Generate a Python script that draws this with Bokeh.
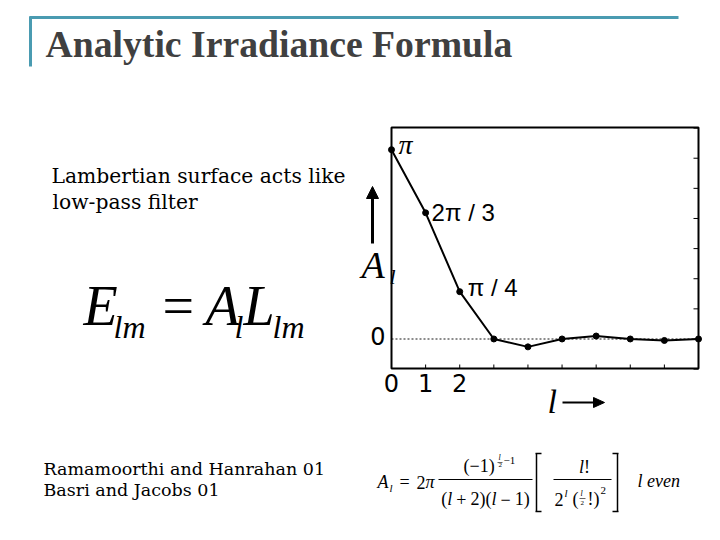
from bokeh.plotting import figure
from bokeh.models import Range1d
from bokeh.core.properties import value
from bokeh.embed import file_html
from bokeh.resources import INLINE

# ---------------- data ----------------
l_values = [0, 1, 2, 3, 4, 5, 6, 7, 8, 9]
A_values = [3.1416, 2.0944, 0.7854, 0.0, -0.1309, 0.0, 0.0491, 0.0, -0.0245, 0.0]
x_tick_values = [0, 1, 2]
x_tick_labels = ["0", "1", "2"]
y_tick_values = [0]
y_tick_labels = ["0"]
right_tick_values = [-0.5, 0.0, 0.5, 1.0, 1.5, 2.0, 2.5, 3.0, 3.5]
point_labels = ["π", "2π / 3", "π / 4"]

title_text = "Analytic Irradiance Formula"
note_lines = ["Lambertian surface acts like", "low-pass filter"]
cite_lines = ["Ramamoorthi and Hanrahan 01", "Basri and Jacobs 01"]

# ---------------- geometry ----------------
W, H = 704, 524
FL, FR, FT, FB = 391, 698, 127, 368      # chart frame on the canvas (pixels)
XR = (0.0, 9.0)
YR = (-0.49, 3.51)
sx = (XR[1] - XR[0]) / (FR - FL)
sy = (YR[1] - YR[0]) / (FB - FT)
K = 0.34   # baseline correction (fraction of font size)

p = figure(width=W, height=H, x_range=Range1d(0, W), y_range=Range1d(H, 0),
           output_backend="svg", toolbar_location=None, tools="",
           x_axis_location=None, y_axis_location=None,
           min_border=0, min_border_left=0, min_border_right=0,
           min_border_top=0, min_border_bottom=0)
p.grid.visible = False
p.outline_line_color = None
p.background_fill_color = "white"
p.border_fill_color = "white"

p.extra_x_ranges = {"cx": Range1d(XR[0] - FL * sx, XR[1] + (W - FR) * sx)}
p.extra_y_ranges = {"cy": Range1d(YR[0] - (H - FB) * sy, YR[1] + FT * sy)}
C = dict(x_range_name="cx", y_range_name="cy")

# zero line
p.segment(x0=[XR[0]], y0=[0], x1=[XR[1]], y1=[0], line_color="#666666",
          line_dash="2 2", line_width=1.5, **C)

# frame
p.quad(left=[XR[0]], right=[XR[1]], bottom=[YR[0]], top=[YR[1]],
       fill_color=None, line_color="black", line_width=2, **C)
# inward ticks
p.segment(x0=[XR[1] - 5 * sx] * len(right_tick_values), y0=right_tick_values,
          x1=[XR[1]] * len(right_tick_values), y1=right_tick_values,
          line_color="black", line_width=1, **C)
p.segment(x0=l_values, y0=[YR[0]] * len(l_values), x1=l_values,
          y1=[YR[0] + 4 * sy] * len(l_values), line_color="black", line_width=1, **C)
# tick labels
p.text(x=x_tick_values, y=[YR[0]] * len(x_tick_values), text=x_tick_labels,
       y_offset=23 - K * 24, text_align="center", text_baseline="alphabetic",
       text_font=value("DejaVu Sans"), text_font_size="24px", text_color="black", **C)
p.text(x=[XR[0]], y=y_tick_values, text=y_tick_labels, x_offset=-6, y_offset=5 - K * 24,
       text_align="right", text_baseline="alphabetic",
       text_font=value("DejaVu Sans"), text_font_size="24px", text_color="black", **C)

# data
p.line(l_values, A_values, line_color="black", line_width=2, **C)
p.scatter(l_values, A_values, size=6, color="black", **C)

# point labels
p.text(x=[l_values[0]], y=[A_values[0]], text=[point_labels[0]], x_offset=7,
       y_offset=4 - K * 28, text_font=value("Liberation Serif"), text_font_style="italic",
       text_font_size="28px", text_baseline="alphabetic", **C)
p.text(x=l_values[1:3], y=A_values[1:3], text=point_labels[1:3], x_offset=[6, 8],
       y_offset=[8 - K * 24, 4 - K * 24], text_font=value("Liberation Sans"),
       text_font_size="24px", text_baseline="alphabetic", **C)


# ---------------- helpers in canvas pixels ----------------
def txt(text, x, y, size, font="Liberation Serif", style="normal",
        align="left", color="black"):
    p.text(x=[x], y=[y - K * size], text=[text], text_font=value(font),
           text_font_size=f"{size}px", text_font_style=style,
           text_align=align, text_baseline="alphabetic", text_color=color)


def seg(x0, y0, x1, y1, color="black", width=1.0):
    p.segment(x0=[x0], y0=[y0], x1=[x1], y1=[y1], line_color=color, line_width=width)


def head(xs, ys):
    p.patch(xs, ys, fill_color="black", line_color="black", line_width=1)


WID = {'(': .333, ')': .333, '+': .564, '−': .564, '=': .564, ' ': .25,
       '!': .333, 'l': .278, 'π': .55, 'A': .611, 'e': .444, 'v': .444,
       'n': .5, 'm': .722}


def wof(s, size):
    return sum(WID.get(c, .5) for c in s) * size


def run(pieces, x, y, align="left"):
    # pieces: (text, style, size) or a number = horizontal gap in px
    def w(pc):
        return pc if isinstance(pc, (int, float)) else wof(pc[0], pc[2])
    total = sum(w(pc) for pc in pieces)
    if align == "center":
        x -= total / 2
    for pc in pieces:
        if not isinstance(pc, (int, float)):
            txt(pc[0], x, y, pc[2], style=pc[1])
        x += w(pc)


# axis names and arrows
txt("A", 361, 277, 38, style="italic")
txt("l", 389, 283, 22, style="italic")
seg(372, 243, 372, 196, width=3)
head([366, 378, 372], [198, 198, 186])
txt("l", 547, 413, 34, style="italic")
seg(562, 402, 595, 402, width=2)
head([593, 593, 604], [397, 407, 402])

# ---------------- slide decorations ----------------
TEAL = "#4a9bb1"
seg(29, 17, 678, 17, color=TEAL, width=3)
seg(30, 16, 30, 66, color=TEAL, width=3)
txt(title_text, 45, 56, 37.7, style="bold", color="#404040")

txt(note_lines[0], 51, 182, 20.3, font="DejaVu Serif")
txt(note_lines[1], 52, 208, 20.3, font="DejaVu Serif")

txt(cite_lines[0], 43, 474, 17.5, font="DejaVu Serif")
txt(cite_lines[1], 43, 495, 17.5, font="DejaVu Serif")

# E_lm = A_l L_lm
txt("E", 83, 325, 56, style="italic")
txt("lm", 113, 337, 32, style="italic")
txt("=", 162, 325, 56)
txt("A", 205, 325, 56, style="italic")
txt("l", 234, 337, 32, style="italic")
txt("L", 243, 325, 56, style="italic")
txt("lm", 272, 337, 32, style="italic")

# A_l = 2pi (-1)^(l/2-1)/((l+2)(l-1)) [ l! / (2^l (l/2 !)^2) ]  l even
B = 488
txt("A", 377, B, 18, style="italic")
txt("l", 389, B + 3, 11, style="italic")
txt("=", 399, B, 18)
txt("2", 416, B, 18)
txt("π", 425, B, 18, style="italic")
txt("(−1)", 463, 472, 18)
txt("l", 498, 460, 8, style="italic")
seg(497, 462, 502, 462, width=0.6)
txt("2", 498, 467, 7)
txt("−1", 503, 464, 11)
seg(438, 479, 532, 479, width=1)
run([("(", "normal", 18), ("l", "italic", 18), 4, ("+", "normal", 18), 4,
     ("2)(", "normal", 18), ("l", "italic", 18), 4, ("−", "normal", 18), 4,
     ("1)", "normal", 18)], 485, 505, align="center")
# brackets
seg(536, 453, 536, 511, width=1.5)
seg(535, 453, 541, 453, width=1.5)
seg(535, 511, 541, 511, width=1.5)
seg(617, 453, 617, 511, width=1.5)
seg(612, 453, 618, 453, width=1.5)
seg(612, 511, 618, 511, width=1.5)
run([("l", "italic", 18), ("!", "normal", 18)], 584, 473, align="center")
seg(553, 479, 611, 479, width=1)
txt("2", 554, 505, 18)
txt("l", 564, 496, 11, style="italic")
txt("(", 572, 505, 18)
txt("l", 580, 496, 8, style="italic")
seg(579, 498, 585, 498, width=0.6)
txt("2", 580, 505, 7)
txt("!)", 587, 505, 18)
txt("2", 600, 494, 11)
txt("l even", 637, 487, 18, style="italic")

open("out.html", "w").write(file_html(p, INLINE))
